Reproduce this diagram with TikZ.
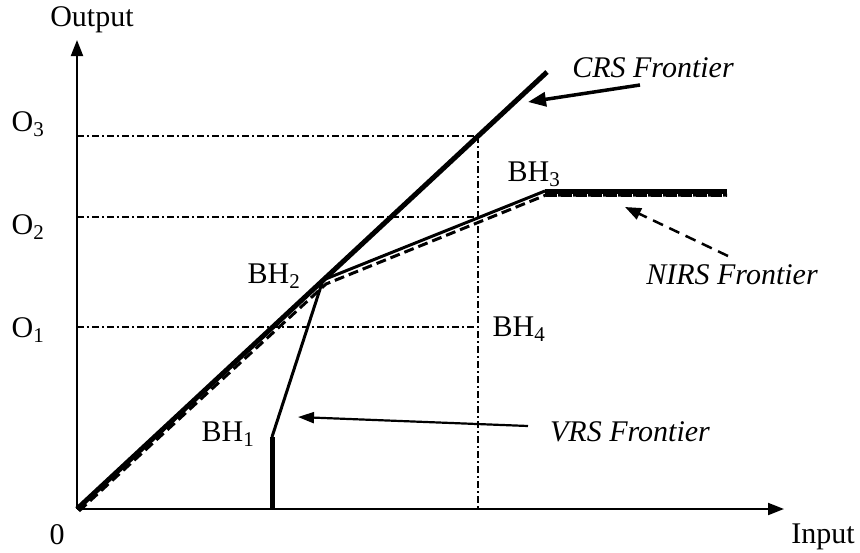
\documentclass[tikz,border=0pt]{standalone}
\usepackage{fontspec}
\setmainfont{Liberation Serif}
\usetikzlibrary{arrows.meta}
\begin{document}
\begin{tikzpicture}[x=1pt,y=-1pt,
  lbl/.style={inner sep=0pt,font=\fontsize{30}{32}\selectfont},
  ilbl/.style={inner sep=0pt,font=\fontsize{30}{32}\selectfont\itshape},
  axis/.style={line width=2pt,-{Triangle[length=16pt,width=12pt]}},
  grid/.style={line width=1.4pt,dash pattern=on 7pt off 3pt on 2pt off 3pt},
  thickline/.style={line width=5pt},
  frontier/.style={line width=3pt},
  dline/.style={line width=3pt,dash pattern=on 10pt off 5pt},
  pointer/.style={line width=3.5pt,-{Triangle[length=18pt,width=14pt]}}]
\useasboundingbox (0,0) rectangle (860,552);
% points
\coordinate (O) at (77,509);
\coordinate (ytop) at (77,40);
\coordinate (xend) at (784,509);
\coordinate (crsend) at (547,72);
\coordinate (B1) at (272,437);
\coordinate (B1base) at (272,509);
\coordinate (B2) at (323,280);
\coordinate (B3) at (545,191);
\coordinate (B3end) at (727,191);
\coordinate (N0) at (79,511);
\coordinate (N2) at (326,284);
\coordinate (N3) at (546,195);
\coordinate (N3end) at (727,195);
\coordinate (g3) at (77,136);
\coordinate (g2) at (77,217);
\coordinate (g1) at (77,327);
\coordinate (v3) at (478,136);
\coordinate (v2) at (478,217);
\coordinate (v1) at (478,327);
\coordinate (vb) at (478,509);
% grid lines
\draw[grid] (g3) -- (v3);
\draw[grid] (g2) -- (v2);
\draw[grid] (g1) -- (v1);
\draw[grid] (v3) -- (vb);
% axes
\draw[axis] (O) -- (ytop);
\draw[axis] (O) -- (xend);
% frontiers
\draw[dline] (N0) -- (N2) -- (N3) -- (N3end);
\draw[thickline] (O) -- (crsend);
\draw[frontier,line join=round] (B1) -- (B2) -- (B3);
\draw[line width=5pt] (B3) -- (B3end);
\draw[line width=3.5pt,dash pattern=on 11pt off 4pt] (N3) -- (N3end);
\draw[thickline] (B1) -- (B1base);
% labels
\node[lbl,anchor=base] (lout) at (92,26) {Output};
\node[lbl] (lzero) at (57,535) {0};
\node[lbl] (linput) at (823,537) {Input};
\node[lbl] (lo3) at (28,124) {O\textsubscript{3}};
\node[lbl] (lo2) at (28,227) {O\textsubscript{2}};
\node[lbl] (lo1) at (28,330) {O\textsubscript{1}};
\node[lbl] (lbh1) at (228,434) {BH\textsubscript{1}};
\node[lbl] (lbh2) at (274,276) {BH\textsubscript{2}};
\node[lbl] (lbh3) at (534,174) {BH\textsubscript{3}};
\node[lbl] (lbh4) at (519,329) {BH\textsubscript{4}};
\node[ilbl] (lcrs) at (653,68) {CRS Frontier};
\node[ilbl] (lnirs) at (732,275) {NIRS Frontier};
\node[ilbl] (lvrs) at (630,432) {VRS Frontier};
% pointers
\coordinate (pc0) at (640,85);
\coordinate (pc1) at (528,102);
\coordinate (pn0) at (728,256);
\coordinate (pn1) at (625,207);
\coordinate (pv0) at (528,426);
\coordinate (pv1) at (298,417);
\draw[pointer] (pc0) -- (pc1);
\draw[line width=2.5pt,dash pattern=on 11pt off 7pt,-{Triangle[length=16pt,width=12pt]}] (pn0) -- (pn1);
\draw[line width=2.2pt,-{Triangle[length=16pt,width=11pt]}] (pv0) -- (pv1);
\end{tikzpicture}
\end{document}
